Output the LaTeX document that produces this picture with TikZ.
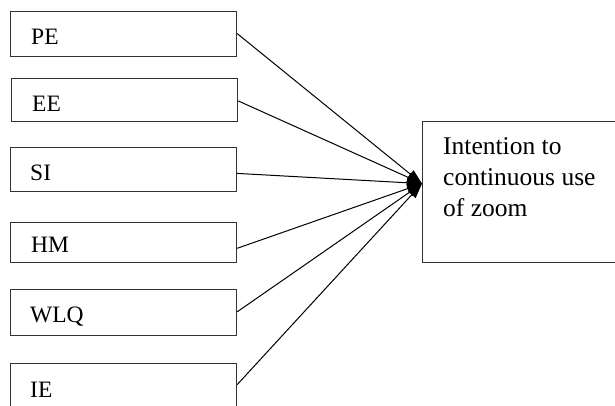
\documentclass[tikz,border=0pt]{standalone}
\usepackage{fontspec}
\setmainfont{Liberation Serif}
\usetikzlibrary{arrows.meta}
\begin{document}
\begin{tikzpicture}[x=1pt,y=-1pt,
  inbox/.style={draw=black!80, line width=1.2pt, anchor=north west, inner sep=0pt,
    minimum width=226pt, minimum height=45pt},
  lbl/.style={anchor=base west, inner sep=0pt, font=\fontsize{23.5}{28}\selectfont},
  conn/.style={line width=1pt, -{Triangle[length=15pt,width=10pt]}}]
\useasboundingbox (0,0) rectangle (615,405);
% left boxes
\node[inbox] (pe)  at (10,11)    {};
\node[inbox, minimum height=43pt] (ee)  at (11,78) {};
\node[inbox, minimum height=44pt] (si)  at (10,147) {};
\node[inbox, minimum height=40pt] (hm)  at (10,222) {};
\node[inbox, minimum height=46pt] (wlq) at (10,288.5) {};
\node[inbox, minimum height=46pt] (ie)  at (10,362.5) {};
% labels
\node[lbl] (pel)  at (31,44)    {PE};
\node[lbl] (eel)  at (32,111)   {EE};
\node[lbl] (sil)  at (30,180)   {SI};
\node[lbl] (hml)  at (31,252.5) {HM};
\node[lbl] (wlql) at (30,322.7) {WLQ};
\node[lbl] (iel)  at (30,397)   {IE};
% target box
\node[inbox, minimum width=230pt, minimum height=141pt] (tgt) at (422,121) {};
\node[anchor=north west, inner sep=0pt, align=left,
      font=\fontsize{25.5}{31}\selectfont] (tgtl) at (443,137.5)
      {Intention to\\continuous use\\of zoom};
\coordinate (tip) at ([yshift=8.5pt]tgt.west);
% connectors
\draw[conn] ([yshift=0.5pt]pe.east) -- (tip);
\draw[conn] ([yshift=-0.8pt]ee.east) -- (tip);
\draw[conn] ([yshift=-3.8pt]si.east) -- (tip);
\draw[conn] ([yshift=-5.7pt]hm.east) -- (tip);
\draw[conn] ([yshift=0.3pt]wlq.east) -- (tip);
\draw[conn] ([yshift=1.5pt]ie.east) -- (tip);
\end{tikzpicture}
\end{document}
